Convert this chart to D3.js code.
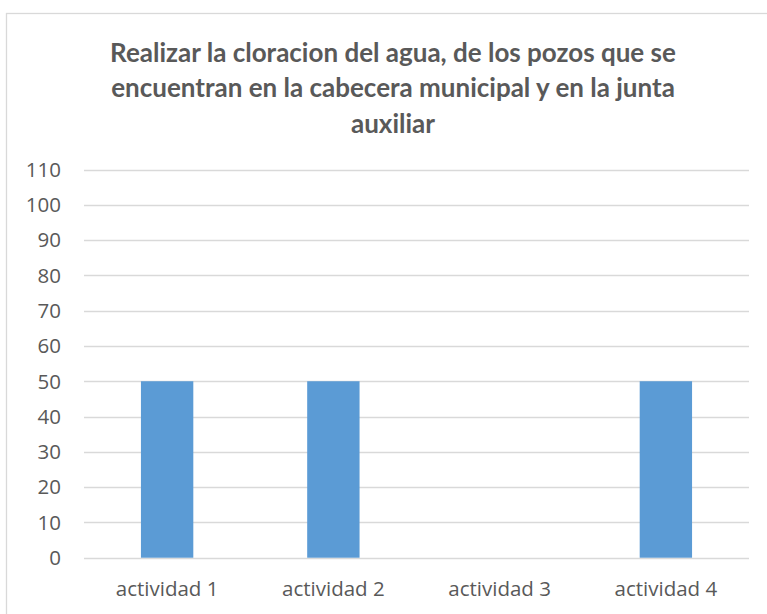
<!DOCTYPE html>
<html>
<head>
<meta charset="UTF-8">
<title>Cloracion</title>
<style>
body { margin: 0; background: #fff; }
text { fill: #595959; font-family: "Open Sans", sans-serif; }
</style>
</head>
<body>
<svg width="767" height="614"></svg>
<script src="https://d3js.org/d3.v7.min.js"></script>
<script>
// chart data
var categories = ["actividad 1", "actividad 2", "actividad 3", "actividad 4"];
var values = [50, 50, 0, 50];
var yTicks = [0, 10, 20, 30, 40, 50, 60, 70, 80, 90, 100, 110];
var titleLines = ["Realizar la cloracion del agua, de los pozos que se",
                  "encuentran en la cabecera municipal y en la junta",
                  "auxiliar"];

var svg = d3.select("svg"),
    width = +svg.attr("width"),
    height = +svg.attr("height");

var plot = {left: 84, right: 749, top: 169.5, bottom: 557.7};

// outer frame (right and bottom edges fall outside the picture)
svg.append("rect")
   .attr("x", 6.5).attr("y", 13.5)
   .attr("width", 800).attr("height", 700)
   .attr("fill", "#fff")
   .attr("stroke", "#d9d9d9")
   .attr("stroke-width", 1.3);

var x = d3.scaleBand()
    .domain(categories)
    .range([plot.left, plot.right])
    .paddingInner(0.685)
    .paddingOuter(0.3425);

var y = d3.scaleLinear()
    .domain([0, 110])
    .range([plot.bottom, plot.top]);

// gridlines
svg.append("g").selectAll("line").data(yTicks).enter().append("line")
   .attr("x1", plot.left).attr("x2", plot.right)
   .attr("y1", function(d){ return Math.round(y(d)) + 0.5; })
   .attr("y2", function(d){ return Math.round(y(d)) + 0.5; })
   .attr("stroke", "#d9d9d9")
   .attr("stroke-width", 1.3);

// y tick labels
svg.append("g").selectAll("text").data(yTicks).enter().append("text")
   .attr("x", 61)
   .attr("y", function(d){ return y(d); })
   .attr("dy", "0.36em")
   .attr("text-anchor", "end")
   .style("font-size", "20.5px")
   .text(function(d){ return d; });

// bars
svg.append("g").selectAll("rect").data(values).enter().append("rect")
   .attr("x", function(d, i){ return x(categories[i]); })
   .attr("y", function(d){ return y(d); })
   .attr("width", x.bandwidth())
   .attr("height", function(d){ return y(0) - y(d); })
   .attr("fill", "#5b9bd5");

// x labels
svg.append("g").selectAll("text").data(categories).enter().append("text")
   .attr("x", function(d){ return x(d) + x.bandwidth() / 2; })
   .attr("y", 596)
   .attr("text-anchor", "middle")
   .style("font-size", "20.5px")
   .text(function(d){ return d; });

// title
svg.append("g").selectAll("text").data(titleLines).enter().append("text")
   .attr("x", 393)
   .attr("y", function(d, i){ return 61.5 + i * 35.5; })
   .attr("text-anchor", "middle")
   .style("font-family", "Lato, sans-serif")
   .style("font-size", "26px")
   .style("font-weight", "bold")
   .text(function(d){ return d; });
</script>
</body>
</html>
